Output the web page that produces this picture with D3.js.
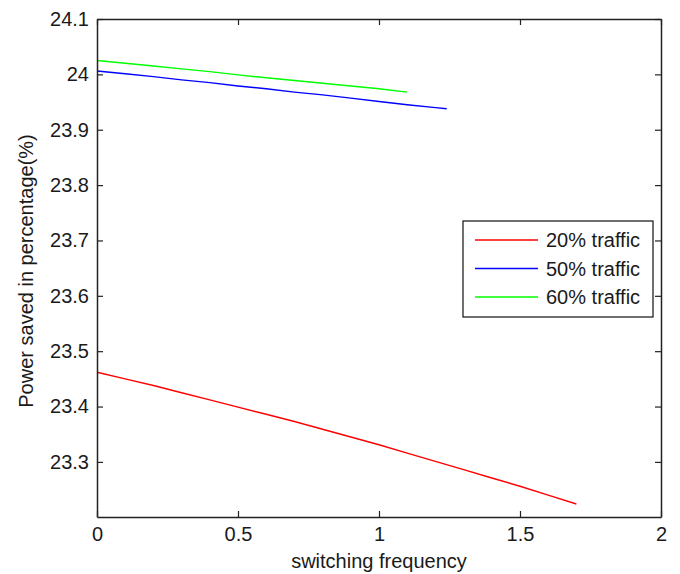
<!DOCTYPE html>
<html>
<head>
<meta charset="utf-8">
<script src="https://cdn.jsdelivr.net/npm/d3@7"></script>
<style>
  body { margin: 0; background: #fff; }
  svg text { font-family: "Liberation Sans", Arial, sans-serif; fill: #1a1a1a; }
</style>
</head>
<body>
<svg id="chart" width="680" height="574"></svg>
<script>
// switching frequency samples
const freq20 = [0, 0.1, 0.2, 0.3, 0.4, 0.5, 0.6, 0.7, 0.8, 0.9, 1.0, 1.1, 1.2, 1.3, 1.4, 1.5, 1.6, 1.7];
const freq50 = [0, 0.1, 0.2, 0.3, 0.4, 0.5, 0.6, 0.7, 0.8, 0.9, 1.0, 1.1, 1.2, 1.24];
const freq60 = [0, 0.1, 0.2, 0.3, 0.4, 0.5, 0.6, 0.7, 0.8, 0.9, 1.0, 1.1];

// power saved (%)
const saved20 = [23.462, 23.450, 23.438, 23.425, 23.412, 23.399, 23.386, 23.373, 23.359,
                 23.345, 23.331, 23.316, 23.301, 23.286, 23.271, 23.256, 23.240, 23.224];
const saved50 = [24.006, 24.001, 23.996, 23.990, 23.985, 23.979, 23.974, 23.968, 23.963,
                 23.957, 23.951, 23.945, 23.940, 23.938];
const saved60 = [24.025, 24.020, 24.015, 24.010, 24.005, 23.999, 23.994, 23.989, 23.984,
                 23.979, 23.974, 23.968];

const seriesNames = ["20% traffic", "50% traffic", "60% traffic"];
const seriesColors = ["#ff0000", "#0000ff", "#00ff00"];

const xTicks = [0, 0.5, 1, 1.5, 2];
const yTicks = [23.3, 23.4, 23.5, 23.6, 23.7, 23.8, 23.9, 24.0, 24.1];

const series = [
    freq20.map((f, i) => [f, saved20[i]]),
    freq50.map((f, i) => [f, saved50[i]]),
    freq60.map((f, i) => [f, saved60[i]])
];

const plot = { left: 97, right: 661, top: 19, bottom: 517 };

const svg = d3.select("#chart");

const x = d3.scaleLinear().domain([0, 2]).range([plot.left, plot.right]);
const y = d3.scaleLinear().domain([23.2005, 24.1]).range([plot.bottom, plot.top]);

svg.append("rect")
.attr("width", 680)
.attr("height", 574)
.attr("fill", "#fff");

// lines
const line = d3.line()
.x(d => x(d[0]))
.y(d => y(d[1]));

series.forEach((s, i) => {
    svg.append("path")
    .datum(s)
    .attr("d", line)
    .attr("fill", "none")
    .attr("stroke", seriesColors[i])
    .attr("stroke-width", 1.4);
});

// axes, ticks inside like matlab
const fmt = d => String(+d.toFixed(1));

const styleAxis = g => {
    g.select(".domain").attr("stroke", "#222").attr("stroke-width", 1.5);
    g.selectAll(".tick line").attr("stroke", "#222").attr("stroke-width", 1.2);
    g.selectAll("text").style("font-size", "20px").attr("fill", "#1a1a1a");
};

svg.append("g")
.attr("transform", `translate(0,${plot.bottom})`)
.call(d3.axisBottom(x).tickValues(xTicks).tickFormat(fmt).tickSizeInner(-6).tickSizeOuter(0).tickPadding(10))
.call(styleAxis);

svg.append("g")
.attr("transform", `translate(0,${plot.top})`)
.call(d3.axisTop(x).tickValues(xTicks).tickFormat("").tickSizeInner(-6).tickSizeOuter(0))
.call(styleAxis);

svg.append("g")
.attr("transform", `translate(${plot.left},0)`)
.call(d3.axisLeft(y).tickValues(yTicks).tickFormat(fmt).tickSizeInner(-6).tickSizeOuter(0).tickPadding(8))
.call(styleAxis);

svg.append("g")
.attr("transform", `translate(${plot.right},0)`)
.call(d3.axisRight(y).tickValues(yTicks).tickFormat("").tickSizeInner(-6).tickSizeOuter(0))
.call(styleAxis);

// axis titles
svg.append("text")
.attr("x", (plot.left + plot.right) / 2)
.attr("y", 568)
.attr("text-anchor", "middle")
.style("font-size", "20px")
.text("switching frequency");

svg.append("text")
.attr("transform", `translate(33,271) rotate(-90)`)
.attr("text-anchor", "middle")
.style("font-size", "20px")
.text("Power saved in percentage(%)");

// legend
const legend = svg.append("g").attr("transform", "translate(463,221)");

legend.append("rect")
.attr("width", 190)
.attr("height", 96)
.attr("fill", "#fff")
.attr("stroke", "#222")
.attr("stroke-width", 1.3);

seriesNames.forEach((name, i) => {
    const row = legend.append("g").attr("transform", `translate(0,${19 + i * 28.5})`);

    row.append("line")
    .attr("x1", 12)
    .attr("x2", 75)
    .attr("stroke", seriesColors[i])
    .attr("stroke-width", 1.4);

    row.append("text")
    .attr("x", 83)
    .attr("dy", "0.35em")
    .style("font-size", "20px")
    .text(name);
});
</script>
</body>
</html>
